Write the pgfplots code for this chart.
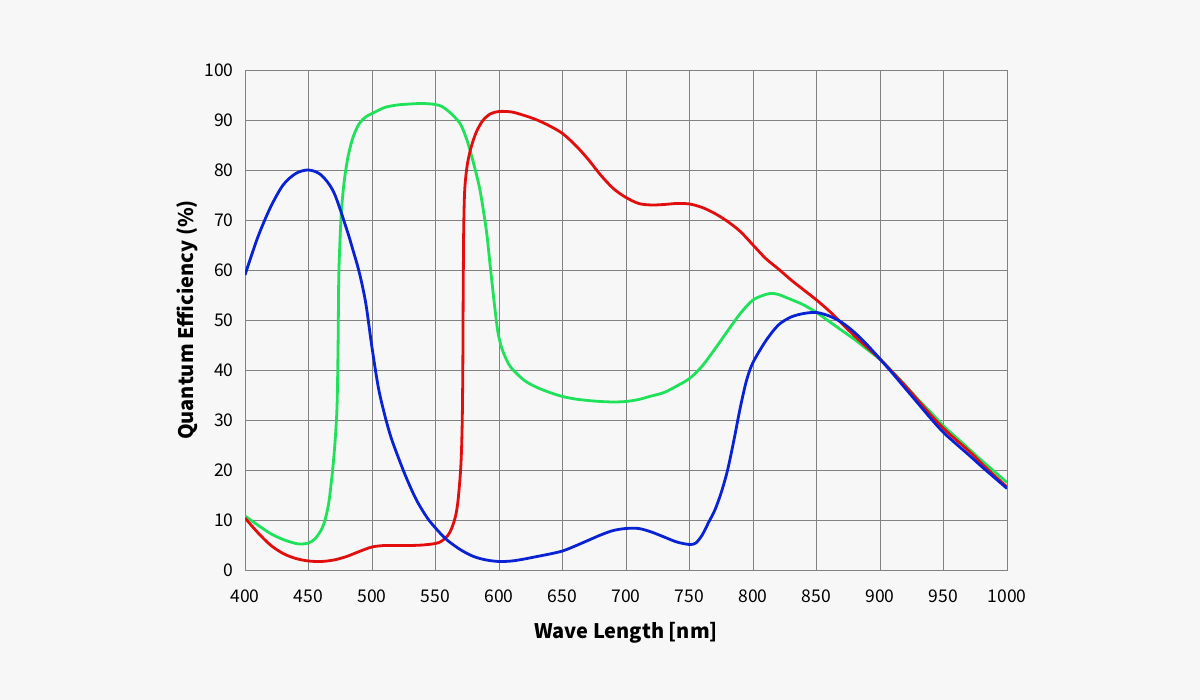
\documentclass[border=0pt]{standalone}
\usepackage{pgfplots}
\pgfplotsset{compat=1.18}
\usepackage{fontspec}
\setmainfont{Noto Sans CJK SC}
\definecolor{bg}{RGB}{247,247,247}
\definecolor{gridc}{RGB}{130,130,130}
\definecolor{cred}{RGB}{226,14,14}
\definecolor{cgreen}{RGB}{32,225,90}
\definecolor{cblue}{RGB}{8,34,212}
\pgfplotstableread{
x y
400 59
410 66.5
420 72.5
430 77
440 79.3
450 80
460 79
470 75.5
480 68.2
485 64
490 59.5
495 53.5
500 44.5
505 36.5
510 31
515 26.5
520 23
525 19.7
530 16.7
535 14
540 11.8
545 9.9
550 8.4
555 7
560 5.8
570 4
580 2.7
590 2
600 1.7
610 1.8
620 2.2
630 2.7
640 3.2
650 3.8
660 4.8
670 5.9
680 7
690 7.9
700 8.3
710 8.3
720 7.6
730 6.6
740 5.6
750 5.1
755 5.4
760 7
765 9.5
770 12
775 15.5
780 20
785 26
790 32.5
795 38
800 41.5
810 45.8
820 49
830 50.6
840 51.3
850 51.5
860 50.8
870 49.5
880 47.5
890 45
900 42.2
910 39.3
920 36.3
930 33.3
940 30.3
950 27.5
960 25.2
970 23
980 20.7
990 18.5
1000 16.3
}\blue
\pgfplotstableread{
x y
400 10.4
410 7.5
420 5
430 3.3
440 2.3
450 1.8
460 1.7
470 2
480 2.7
490 3.7
500 4.6
510 4.9
520 4.9
530 4.9
540 5
550 5.3
555 5.8
560 7
563 8.5
566 11
568 14.5
570 21
571 29
571.5 40
571.8 55
572.2 68
573 76
575 81
578 84.5
582 87.5
587 89.8
593 91.2
600 91.7
610 91.6
620 90.9
630 90
640 88.8
650 87.3
660 85
670 82.2
680 79
690 76.3
700 74.5
710 73.3
720 73
730 73.1
740 73.3
750 73.2
760 72.5
770 71.3
780 69.7
790 67.7
800 65
810 62.3
820 60.2
830 58
840 56
850 54
860 51.8
870 49.3
880 46.8
890 44.5
900 42.2
910 39.5
920 36.8
930 33.9
940 31
950 28.3
960 26
970 23.8
980 21.3
990 18.9
1000 16.6
}\red
\pgfplotstableread{
x y
400 10.8
410 9
420 7.3
430 6.1
440 5.3
445 5.2
450 5.4
455 6.2
460 8
463 10
466 13.5
469 20
471 26
472.5 33
473.3 45
473.8 58
474.8 66
476 72
478 77.5
481 82.5
485 86.5
490 89.3
495 90.6
500 91.3
510 92.5
520 93
530 93.2
540 93.3
550 93.1
555 92.7
560 91.8
565 90.6
570 89
575 85.8
580 81.3
585 76
590 68
593 61
596 54
599 47.8
602 44.5
606 42
610 40.3
620 37.9
630 36.5
640 35.5
650 34.7
660 34.2
670 33.9
680 33.7
690 33.6
700 33.7
710 34.1
720 34.8
730 35.5
740 36.8
750 38.3
760 40.8
770 44.2
780 47.8
790 51.3
800 54
810 55.1
815 55.3
820 55.1
830 54.1
840 53
850 51.5
860 49.7
870 47.9
880 46.1
890 44.1
900 42.1
910 39.6
920 36.9
930 34.1
940 31.5
950 28.8
960 26.5
970 24.2
980 21.9
990 19.7
1000 17.5
}\green
\begin{document}
\begin{tikzpicture}
\fill[bg] (0,0) rectangle (1200pt,700pt);
\begin{axis}[
  at={(245pt,130pt)}, anchor=south west,
  scale only axis, width=762pt, height=500pt,
  xmin=400, xmax=1000, ymin=0, ymax=100,
  xtick={400,450,...,1000}, ytick={0,10,...,100},
  grid=major, major grid style={gridc, line width=0.8pt},
  axis line style={gridc, line width=0.8pt},
  major tick length=0pt,
  axis background/.style={fill=bg},
  /pgf/number format/assume math mode=true,
  /pgf/number format/1000 sep={},
  ticklabel style={font=\fontsize{17.5}{20}\selectfont, text=black},
  xticklabel style={yshift=-16pt},
  yticklabel style={xshift=-8pt},
  xlabel={Wave Length [nm]}, ylabel={Quantum Efficiency (\%)},
  label style={font=\fontsize{20}{24}\selectfont\bfseries, text=black},
  xlabel style={yshift=-13pt},
  ylabel style={yshift=0pt},
  clip=true,
]
\addplot[cgreen, line width=2.8pt, smooth, tension=0.5] table {\green};
\addplot[cred, line width=2.8pt, smooth, tension=0.5] table {\red};
\addplot[cblue, line width=2.8pt, smooth, tension=0.5] table {\blue};
\end{axis}
\end{tikzpicture}
\end{document}
